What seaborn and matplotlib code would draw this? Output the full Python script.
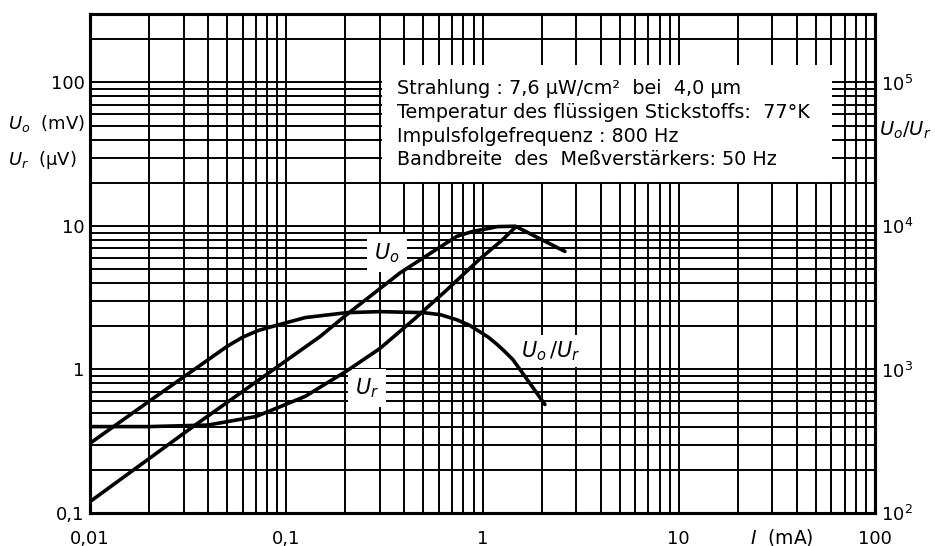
import matplotlib
matplotlib.use("Agg")
import matplotlib.pyplot as plt
import seaborn as sns
from matplotlib.patches import Rectangle
from matplotlib.ticker import LogLocator, NullFormatter

# ---- data ----
I_uo = [0.01, 0.0335, 0.149, 0.203, 0.38, 0.561, 0.74, 0.895, 1.09, 1.19, 1.47, 2.63]
U_o = [0.12, 0.40, 1.70, 2.41, 4.71, 6.65, 8.47, 9.18, 9.65, 9.9, 9.96, 6.65]

I_ur = [0.01, 0.02, 0.04, 0.07, 0.093, 0.125, 0.16, 0.204, 0.30, 0.45, 0.66, 0.97, 1.25, 1.47]
U_r = [0.40, 0.40, 0.41, 0.47, 0.55, 0.65, 0.80, 0.98, 1.40, 2.25, 3.6, 5.9, 7.9, 9.8]

I_ratio = [0.01, 0.02, 0.04, 0.05, 0.06, 0.072, 0.0845, 0.125, 0.204, 0.30, 0.50, 0.61, 0.74,
           0.86, 0.97, 1.07, 1.17, 1.28, 1.43, 1.69, 2.08]
ratio = [306, 600, 1170, 1450, 1680, 1870, 1990, 2300, 2490, 2530, 2490, 2410, 2220,
         2030, 1830, 1680, 1520, 1360, 1170, 850, 570]

x_ticks = [0.01, 0.1, 1, 10, 100]
x_tick_labels = ["0,01", "0,1", "1", "10", "100"]
y_ticks = [0.1, 1, 10, 100]
y_tick_labels = ["0,1", "1", "10", "100"]
r_ticks = [1e2, 1e3, 1e4, 1e5]
r_tick_labels = [r"$10^2$", r"$10^3$", r"$10^4$", r"$10^5$"]

info_lines = [
    "Strahlung : 7,6 µW/cm²  bei  4,0 µm",
    "Temperatur des flüssigen Stickstoffs:  77°K",
    "Impulsfolgefrequenz : 800 Hz",
    "Bandbreite  des  Meßverstärkers: 50 Hz",
]

# ---- style ----
sns.set_theme(style="white")
plt.rcParams['font.family'] = ['DejaVu Sans']
plt.rcParams['mathtext.fontset'] = 'dejavusans'
plt.rcParams['text.color'] = 'black'
plt.rcParams['axes.labelcolor'] = 'black'

W, H = 935, 546
fig = plt.figure(figsize=(W / 100, H / 100), dpi=100)
fig.patch.set_facecolor("white")

L, R, T, B = 90, 875, 14, 513
ax = fig.add_axes([L / W, 1 - B / H, (R - L) / W, (B - T) / H])
ax.set_xscale("log")
ax.set_yscale("log")
ax.set_xlim(0.01, 100)
ax.set_ylim(0.1, 300)

for a in (ax.xaxis, ax.yaxis):
    a.set_minor_locator(LogLocator(base=10, subs=range(2, 10), numticks=20))
    a.set_minor_formatter(NullFormatter())
ax.set_axisbelow(True)
ax.grid(which="both", color="black", lw=1.4)

ax.set_xticks(x_ticks, x_tick_labels)
ax.set_yticks(y_ticks, y_tick_labels)
ax.tick_params(which="both", length=0)
ax.tick_params(axis="x", pad=12, labelsize=13, colors="black")
ax.tick_params(axis="y", pad=4, labelsize=13, colors="black")

for s in ax.spines.values():
    s.set_color("black")
    s.set_linewidth(2.2)


def axfrac(px, py):
    return (px - L) / (R - L), (B - py) / (B - T)


# white panel for the info block
x0, y1 = axfrac(382, 65)
x1, y0 = axfrac(832, 182)
ax.add_patch(Rectangle((x0, y0), x1 - x0, y1 - y0, transform=ax.transAxes,
                       facecolor="white", edgecolor="none", zorder=1))
for i, line in enumerate(info_lines):
    tx, ty = axfrac(397, 89 + i * 23.5)
    ax.text(tx, ty, line, transform=ax.transAxes, ha="left", va="center",
            fontsize=13.8, color="black", zorder=3)

# curves
sns.lineplot(x=I_uo, y=U_o, ax=ax, color="black", lw=2.6)
sns.lineplot(x=I_ur, y=U_r, ax=ax, color="black", lw=2.6)

# curve labels with white boxes cutting the grid
for (px, py), lab in [((387, 253), r"$U_o$"), ((367, 388), r"$U_r$")]:
    tx, ty = axfrac(px, py)
    ax.text(tx, ty, lab, transform=ax.transAxes, ha="center", va="center",
            fontsize=15, color="black", zorder=1.5,
            bbox=dict(facecolor="white", edgecolor="none", pad=5))
ax.set_xlabel("")
ax.set_ylabel("")

# right axis: U_o / U_r
ax2 = ax.twinx()
ax2.set_yscale("log")
ax2.set_ylim(100, 300000)
ax2.yaxis.set_minor_formatter(NullFormatter())
sns.lineplot(x=I_ratio, y=ratio, ax=ax2, color="black", lw=2.6)
ax2.set_yticks(r_ticks, r_tick_labels)
ax2.tick_params(which="both", length=0)
ax2.tick_params(axis="y", pad=4, labelsize=13, colors="black")
ax2.grid(False)
ax2.set_ylabel("")
ax2.set_xlabel("")
for s in ax2.spines.values():
    s.set_color("black")
    s.set_linewidth(2.2)
tx, ty = axfrac(551, 351)
ax2.text(tx, ty, r"$U_o\,/U_r$", transform=ax2.transAxes, ha="center", va="center",
         fontsize=15, color="black", zorder=0.5,
         bbox=dict(facecolor="white", edgecolor="none", pad=3))

# axis titles as figure text
fig.text(8 / W, 1 - 123 / H, r"$U_o$  (mV)", ha="left", va="center", fontsize=13)
fig.text(8 / W, 1 - 160 / H, r"$U_r$  (µV)", ha="left", va="center", fontsize=13)
fig.text(879 / W, 1 - 130 / H, r"$U_o/U_r$", ha="left", va="center", fontsize=14)
fig.text(750 / W, 1 - 537 / H, r"$I$  (mA)", ha="left", va="center", fontsize=13.5)

fig.savefig("out.png", dpi=100, facecolor="white")
